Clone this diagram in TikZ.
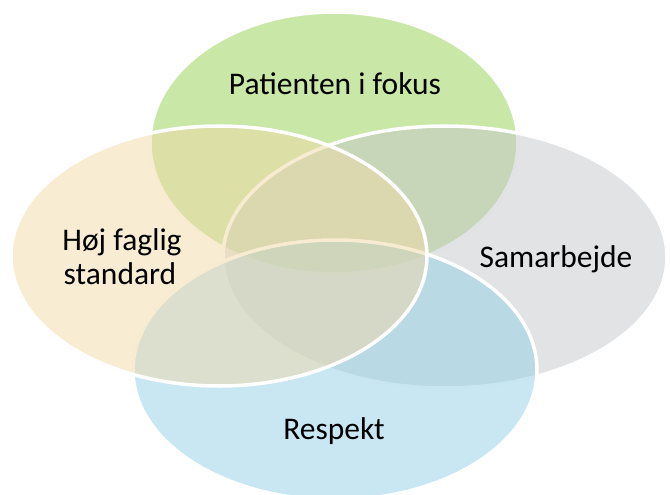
\documentclass[tikz,border=0pt]{standalone}
\usepackage{fontspec}
\setmainfont{Carlito}
\definecolor{vgreen}{RGB}{147,207,79}
\definecolor{vgray}{RGB}{197,199,203}
\definecolor{vyellow}{RGB}{241,217,167}
\definecolor{vblue}{RGB}{145,207,231}
\tikzset{
  venn/.style={draw=white, line width=3.5pt, fill opacity=0.5, draw opacity=1},
  lbl/.style={anchor=base, inner sep=0pt, font=\fontsize{31.5}{34}\selectfont, text=black}
}
\begin{document}
\begin{tikzpicture}[x=1pt,y=-1pt]
\useasboundingbox (0,0) rectangle (670,495);
\clip (0,0) rectangle (670,495);
\path[venn, fill=vgreen]  (334,143) ellipse [x radius=184pt, y radius=131pt];
\path[venn, fill=vgray]   (445,257) ellipse [x radius=222pt, y radius=131pt];
\path[venn, fill=vblue]   (335,370) ellipse [x radius=202pt, y radius=130pt];
\path[venn, fill=vyellow] (219,256) ellipse [x radius=208pt, y radius=130pt];
\node[lbl] (pf) at (335,95) {Patienten i fokus};
\node[lbl] (sa) at (556,267) {Samarbejde};
\node[lbl] (hf1) at (122,250) {Høj faglig};
\node[lbl] (hf2) at (120,284) {standard};
\node[lbl] (re) at (334,439) {Respekt};
\end{tikzpicture}
\end{document}
